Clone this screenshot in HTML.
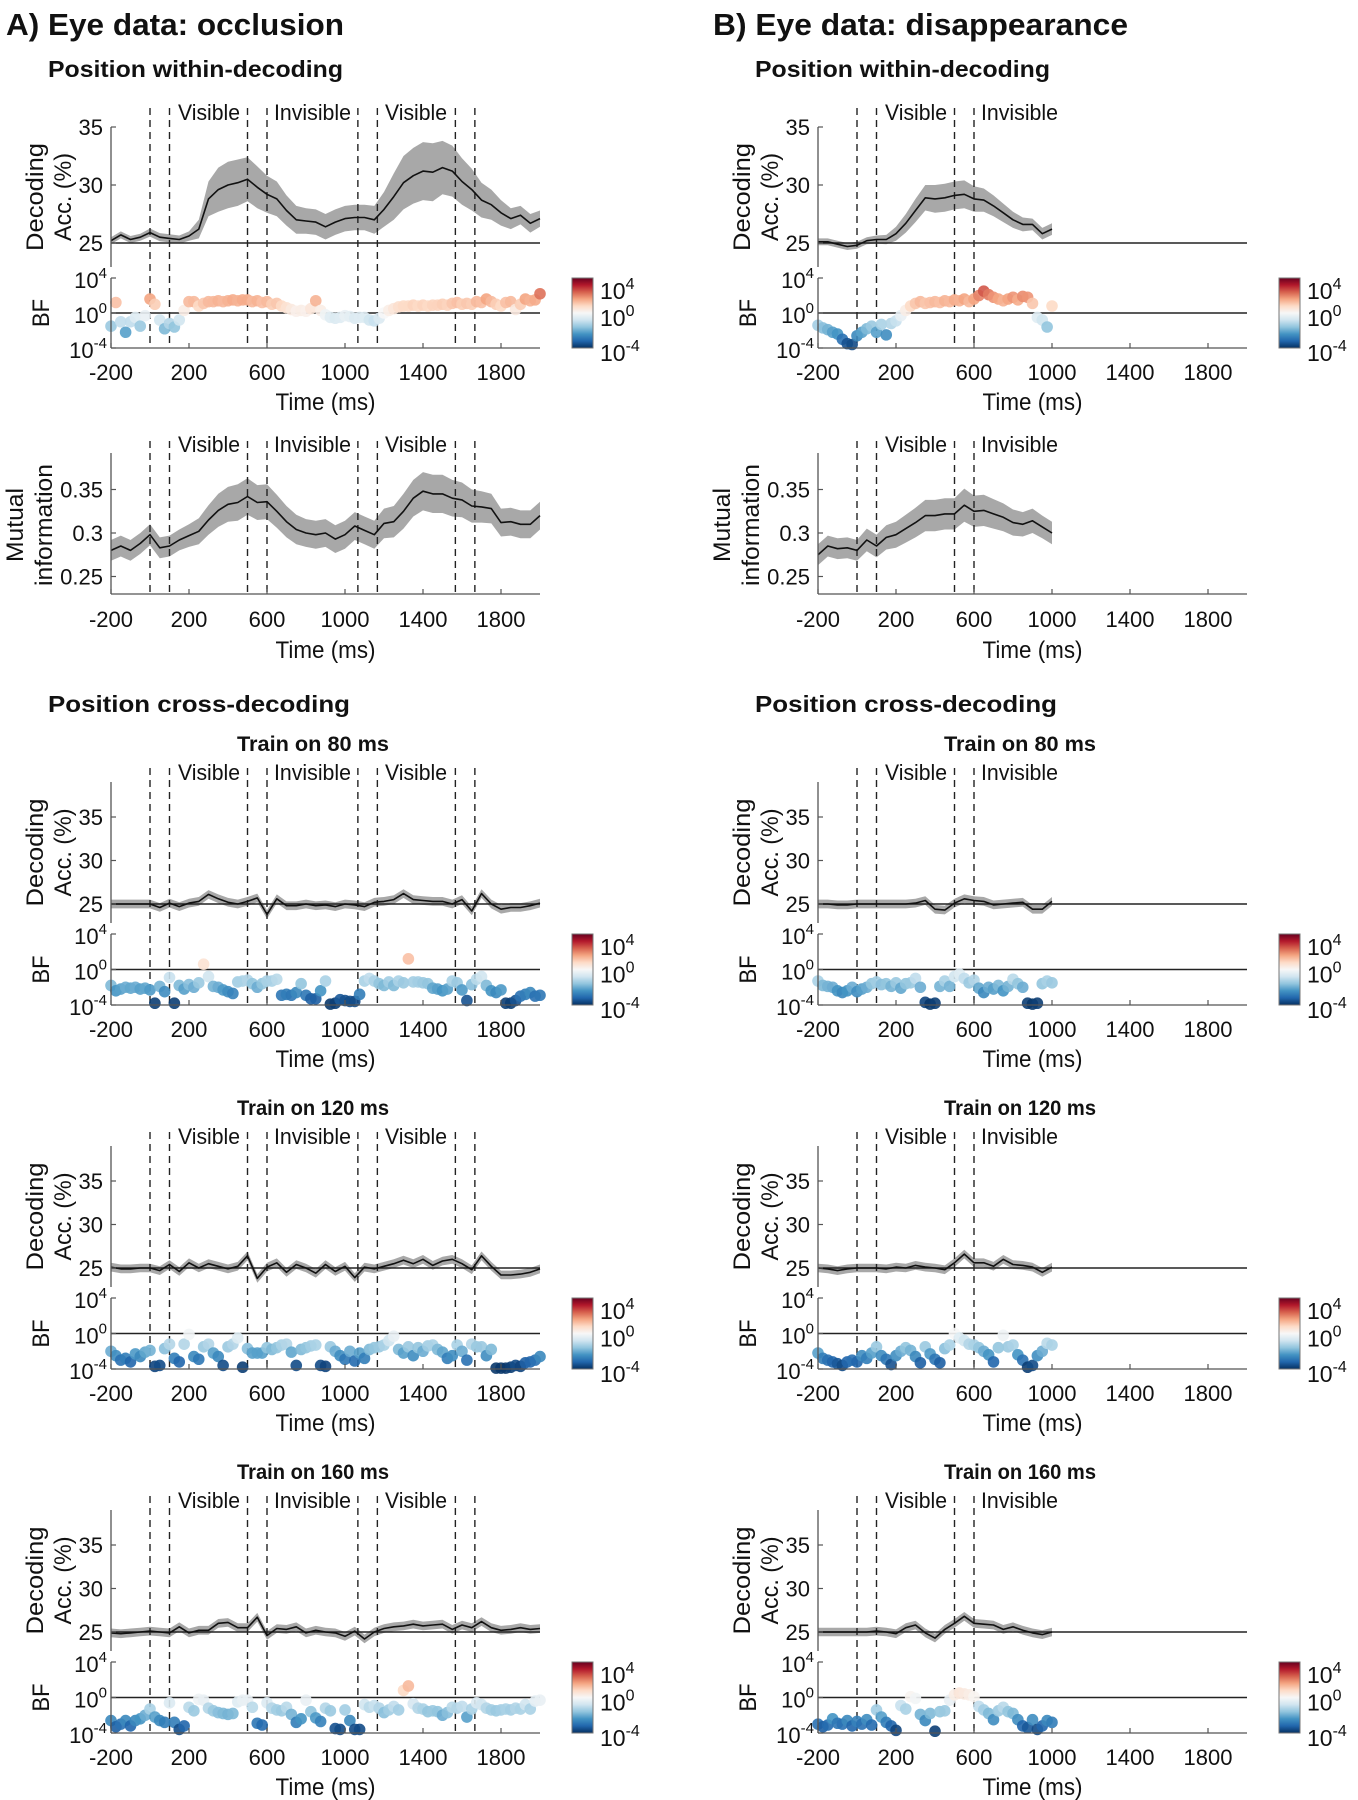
<!DOCTYPE html>
<html><head><meta charset="utf-8"><style>
html,body{margin:0;padding:0;background:#fff}
svg{display:block}
text{font-family:"Liberation Sans",Arial,sans-serif;fill:#111}
</style></head>
<body>
<svg id="fig" xmlns="http://www.w3.org/2000/svg" width="1358" height="1800" viewBox="0 0 1358 1800">
<defs>
<linearGradient id="rdbu" x1="0" y1="1" x2="0" y2="0">
<stop offset="0" stop-color="#053061"/><stop offset="0.1" stop-color="#2166ac"/><stop offset="0.2" stop-color="#4393c3"/><stop offset="0.3" stop-color="#92c5de"/><stop offset="0.4" stop-color="#d1e5f0"/><stop offset="0.5" stop-color="#f7f7f7"/><stop offset="0.6" stop-color="#fddbc7"/><stop offset="0.7" stop-color="#f4a582"/><stop offset="0.8" stop-color="#d6604d"/><stop offset="0.9" stop-color="#b2182b"/><stop offset="1" stop-color="#67001f"/>
</linearGradient>
</defs>
<text x="6" y="35" font-size="31" font-weight="bold" textLength="338" lengthAdjust="spacingAndGlyphs">A) Eye data: occlusion</text>
<text x="713" y="35" font-size="31" font-weight="bold" textLength="415" lengthAdjust="spacingAndGlyphs">B) Eye data: disappearance</text>
<text x="48" y="77" font-size="23" font-weight="bold" textLength="295" lengthAdjust="spacingAndGlyphs">Position within-decoding</text>
<text x="755" y="77" font-size="23" font-weight="bold" textLength="295" lengthAdjust="spacingAndGlyphs">Position within-decoding</text>
<text x="48" y="712" font-size="23" font-weight="bold" textLength="302" lengthAdjust="spacingAndGlyphs">Position cross-decoding</text>
<text x="755" y="712" font-size="23" font-weight="bold" textLength="302" lengthAdjust="spacingAndGlyphs">Position cross-decoding</text>
</svg>
<script>
// ---- data (accuracy / MI at 50 ms steps from -200; BF log10 at 25 ms steps from -200) ----
const xTicks = [-200, 200, 600, 1000, 1400, 1800];
const dashesA = [0, 100, 500, 600, 1066, 1166, 1566, 1666];
const dashesB = [0, 100, 500, 600];
const regionNamesA = ["Visible", "Invisible", "Visible"];
const regionNamesB = ["Visible", "Invisible"];
const accTicks = [25, 30, 35];
const miTicks = [0.25, 0.3, 0.35];
const miTickLabels = ["0.25", "0.3", "0.35"];
const bfTicks = [-4, 0, 4];
const crossCi = 0.5;

const a1Acc = [25.2,25.7,25.3,25.5,25.9,25.5,25.4,25.3,25.6,26.2,28.8,29.6,30.0,30.2,30.5,29.8,29.2,28.8,27.8,27.0,26.9,26.8,26.4,26.8,27.1,27.2,27.2,27.0,27.9,29.0,30.2,30.8,31.2,31.1,31.5,31.2,30.3,29.6,28.7,28.3,27.6,27.1,27.4,26.7,27.1];
const a1Ci = [0.3,0.3,0.3,0.3,0.35,0.35,0.35,0.35,0.4,0.8,1.5,1.9,2.0,2.0,1.9,1.8,1.6,1.5,1.3,1.2,1.1,1.1,1.1,1.1,1.1,1.1,1.1,1.2,1.5,2.0,2.3,2.4,2.5,2.5,2.3,2.2,2.0,1.8,1.5,1.3,1.1,0.9,0.8,0.8,0.7];
const a1Bf = [-1.5,1.2,-1.0,-2.2,-1.0,-0.5,-1.5,-0.3,1.6,1.0,-0.8,-1.8,-1.2,-1.6,-0.8,0.3,1.3,1.3,0.8,1.1,1.3,1.3,1.4,1.3,1.4,1.5,1.4,1.5,1.5,1.3,1.4,1.2,1.3,1.0,1.1,0.8,0.6,0.4,0.2,0.3,0.2,0.5,1.4,0.3,-0.2,-0.5,-0.6,-0.5,-0.3,-0.4,-0.6,-0.5,-0.5,-0.8,-0.9,-0.6,0.0,0.3,0.5,0.7,0.8,0.8,0.9,0.8,0.9,0.8,0.9,0.9,1.0,0.9,1.1,1.2,1.0,1.1,1.0,1.3,1.2,1.6,1.3,1.0,0.8,1.2,1.3,0.4,1.0,1.6,1.4,1.5,2.2];
const a2Mi = [0.280,0.285,0.280,0.288,0.298,0.283,0.285,0.292,0.297,0.302,0.315,0.326,0.333,0.335,0.342,0.335,0.336,0.325,0.313,0.304,0.300,0.298,0.300,0.293,0.298,0.308,0.303,0.298,0.311,0.313,0.325,0.340,0.348,0.345,0.345,0.340,0.338,0.331,0.330,0.328,0.312,0.313,0.310,0.310,0.320];
const a2Ci = [0.012,0.012,0.012,0.012,0.012,0.012,0.012,0.012,0.013,0.015,0.017,0.019,0.020,0.021,0.021,0.020,0.020,0.019,0.018,0.017,0.016,0.016,0.016,0.016,0.016,0.016,0.016,0.016,0.017,0.018,0.020,0.021,0.022,0.022,0.022,0.021,0.020,0.019,0.018,0.017,0.016,0.016,0.016,0.016,0.016];
const a3Acc = [25.0,25.0,25.0,25.0,25.0,24.6,25.1,24.7,25.1,25.3,26.1,25.6,25.2,25.0,25.3,25.7,23.8,25.6,24.8,24.8,25.0,24.8,24.9,24.7,25.0,24.9,24.7,25.2,25.3,25.5,26.2,25.5,25.4,25.3,25.3,25.0,25.5,24.2,26.2,25.0,24.4,24.6,24.6,24.8,25.1];
const a3Bf = [-1.8,-2.4,-2.2,-2.0,-2.1,-2.0,-2.2,-2.1,-2.3,-3.8,-1.9,-2.5,-0.9,-3.8,-1.8,-2.2,-1.7,-2.0,-1.5,0.6,-0.8,-1.9,-2.0,-2.3,-2.5,-2.7,-1.4,-1.3,-1.2,-1.6,-2.0,-1.6,-1.3,-1.3,-1.1,-2.9,-2.8,-2.9,-2.6,-1.6,-2.9,-3.3,-3.3,-2.4,-1.3,-3.9,-3.8,-3.4,-3.5,-3.6,-3.6,-2.8,-1.3,-1.0,-1.3,-1.6,-1.8,-1.4,-1.8,-1.3,-1.5,1.2,-1.4,-1.4,-1.5,-1.6,-2.1,-2.2,-2.4,-2.2,-1.3,-1.5,-2.3,-3.5,-1.7,-1.1,-0.8,-1.8,-2.4,-2.6,-2.3,-3.8,-3.8,-3.5,-3.0,-2.8,-2.6,-3.0,-2.9];
const a4Acc = [25.1,24.9,24.9,25.0,25.0,24.7,25.4,24.6,25.6,25.0,25.5,25.2,24.9,25.2,26.4,23.8,25.1,25.6,24.5,25.4,25.0,24.4,25.4,24.6,25.2,23.9,25.1,24.9,25.2,25.5,25.9,25.5,26.0,25.3,25.8,26.0,25.5,24.8,26.4,25.2,24.2,24.2,24.3,24.5,24.9];
const a4Bf = [-2.0,-2.5,-3.0,-2.8,-3.2,-2.3,-2.6,-2.1,-1.9,-3.7,-3.6,-1.7,-1.2,-2.8,-3.2,-1.2,-0.1,-2.6,-2.9,-1.5,-1.2,-2.2,-2.6,-3.6,-1.5,-1.2,-0.5,-3.8,-1.7,-2.2,-2.2,-2.2,-1.6,-1.8,-1.6,-1.3,-1.2,-2.1,-3.6,-1.8,-1.6,-1.4,-1.3,-3.6,-3.7,-1.5,-2.0,-2.5,-2.9,-2.0,-3.1,-2.2,-2.8,-1.8,-1.6,-1.5,-1.3,-0.8,-0.3,-1.8,-2.2,-1.5,-2.5,-1.6,-2.0,-1.4,-1.3,-1.8,-2.1,-2.8,-2.5,-1.3,-2.0,-3.0,-1.2,-1.5,-1.5,-2.5,-1.8,-3.9,-3.9,-3.9,-3.8,-3.6,-3.7,-3.3,-3.2,-3.0,-2.6];
const a5Acc = [24.9,24.8,24.9,25.0,25.1,25.0,24.9,25.6,24.9,25.2,25.2,26.0,26.1,25.5,25.5,26.7,24.6,25.4,25.3,25.6,24.9,25.2,25.0,24.9,24.5,25.1,24.2,25.0,25.4,25.6,25.7,25.9,25.7,25.8,25.9,25.3,25.8,25.5,26.2,25.5,25.2,25.3,25.5,25.3,25.4];
const a5Bf = [-2.6,-3.3,-3.0,-2.6,-3.2,-2.6,-2.4,-2.0,-1.3,-2.2,-2.6,-2.8,-0.6,-2.8,-3.6,-3.2,-1.1,-1.5,-0.2,-0.3,-1.2,-1.5,-1.7,-1.8,-1.9,-1.8,-0.5,-0.3,-0.3,-1.1,-2.9,-3.1,-0.6,-1.2,-1.4,-1.5,-1.1,-1.9,-2.8,-2.4,-0.3,-1.6,-2.3,-2.7,-1.2,-1.5,-3.5,-3.6,-1.4,-2.6,-3.6,-3.6,-0.8,-1.1,-0.9,-1.2,-1.7,-1.4,-1.0,-1.4,0.8,1.3,-0.7,-1.2,-1.3,-1.6,-1.5,-1.6,-2.0,-1.7,-1.1,-1.2,-1.0,-2.2,-1.3,-0.6,-0.8,-1.2,-1.4,-1.5,-1.4,-1.3,-1.4,-1.2,-1.3,-0.8,-1.3,-0.4,-0.3];

const b1Acc = [25.1,25.1,24.9,24.7,24.8,25.2,25.3,25.3,25.8,26.7,27.8,28.9,28.8,28.9,29.1,29.2,28.8,28.7,28.2,27.6,27.0,26.6,26.6,25.8,26.2];
const b1Ci = [0.3,0.3,0.3,0.3,0.3,0.3,0.35,0.4,0.6,0.8,1.0,1.1,1.2,1.2,1.2,1.2,1.1,1.0,0.9,0.8,0.7,0.6,0.5,0.5,0.5];
const b1Bf = [-1.4,-1.7,-1.9,-2.2,-2.4,-3.0,-3.5,-3.6,-2.6,-2.2,-1.8,-1.5,-2.2,-1.3,-2.5,-1.2,-0.9,-0.3,0.3,0.8,1.1,1.3,1.1,1.2,1.3,1.2,1.4,1.3,1.5,1.4,1.6,1.3,1.6,2.0,2.5,2.1,1.8,1.6,1.4,1.6,1.8,1.5,1.9,1.8,1.1,-0.5,-0.8,-1.6,0.8];
const b2Mi = [0.275,0.285,0.282,0.283,0.280,0.292,0.285,0.295,0.298,0.305,0.312,0.320,0.320,0.322,0.322,0.332,0.325,0.326,0.322,0.318,0.312,0.310,0.314,0.307,0.300];
const b2Ci = [0.012,0.012,0.012,0.012,0.012,0.013,0.013,0.014,0.015,0.016,0.017,0.018,0.018,0.018,0.018,0.019,0.018,0.018,0.017,0.016,0.015,0.014,0.014,0.013,0.013];
const b3Acc = [25.0,25.0,24.9,24.9,25.0,25.0,25.0,25.0,25.0,25.0,25.1,25.4,24.4,24.3,25.1,25.6,25.4,25.3,24.9,25.0,25.1,25.2,24.4,24.4,25.3];
const b3Bf = [-1.3,-1.8,-1.9,-2.0,-2.4,-2.6,-2.4,-2.0,-2.5,-2.2,-2.0,-1.6,-1.4,-1.7,-1.6,-1.9,-1.5,-2.1,-1.6,-1.5,-1.0,-2.0,-3.7,-3.9,-3.8,-1.9,-1.3,-1.9,-0.8,-0.5,-1.0,-1.5,-1.2,-2.1,-2.6,-2.0,-2.2,-1.8,-2.4,-1.9,-1.1,-1.6,-2.0,-3.8,-3.9,-3.8,-1.6,-1.3,-1.5];
const b4Acc = [25.0,24.9,24.7,24.9,25.0,25.0,25.0,24.9,25.1,25.0,25.3,25.1,25.0,24.8,25.6,26.6,25.6,25.6,25.2,26.0,25.4,25.3,25.1,24.5,25.1];
const b4Bf = [-2.2,-2.8,-3.0,-3.2,-3.4,-3.6,-3.2,-3.0,-3.2,-2.5,-2.8,-2.2,-1.5,-2.5,-2.9,-3.5,-2.5,-2.0,-1.6,-1.9,-2.6,-3.3,-1.5,-2.3,-2.9,-3.3,-1.7,-1.3,0.0,-0.5,-0.8,-1.2,-1.3,-1.6,-2.0,-2.4,-3.2,-1.6,-0.2,-1.5,-1.3,-2.4,-3.0,-3.8,-3.6,-2.5,-2.0,-1.1,-1.3];
const b5Acc = [25.0,25.0,25.0,25.0,25.0,25.0,25.1,25.0,24.8,25.5,25.8,24.9,24.3,25.3,26.0,26.8,26.0,25.9,25.8,25.3,25.6,25.2,24.9,24.7,25.0];
const b5Bf = [-3.0,-3.3,-3.1,-2.4,-2.9,-3.0,-2.6,-3.2,-2.7,-3.0,-2.5,-3.1,-1.4,-2.2,-2.8,-3.2,-3.7,-0.9,-1.3,0.1,-0.1,-1.9,-2.6,-1.8,-3.8,-1.6,-1.5,-0.3,0.3,0.5,0.4,0.3,0.1,-1.0,-1.4,-1.8,-2.5,-1.5,-1.1,-1.6,-1.8,-2.5,-3.2,-3.4,-2.5,-3.6,-3.2,-2.6,-2.8];

// ---- drawing ----
const NS = "http://www.w3.org/2000/svg";
const svg = document.getElementById("fig");
const TICK_FS = 22;
function mk(tag, attrs, parent) {
  const e = document.createElementNS(NS, tag);
  for (const k in attrs) e.setAttribute(k, attrs[k]);
  (parent || svg).appendChild(e);
  return e;
}
const stops = [[-4,[5,48,97]],[-3.2,[33,102,172]],[-2.4,[67,147,195]],[-1.6,[146,197,222]],[-0.8,[209,229,240]],[0,[247,247,247]],[0.8,[253,219,199]],[1.6,[244,165,130]],[2.4,[214,96,77]],[3.2,[178,24,43]],[4,[103,0,31]]];
function rdbu(v) {
  v = Math.max(-4, Math.min(4, v));
  for (let i = 0; i < stops.length - 1; i++) {
    const a = stops[i], b = stops[i + 1];
    if (v <= b[0]) {
      const f = (v - a[0]) / (b[0] - a[0]);
      const c = a[1].map((x, j) => Math.round(x + (b[1][j] - x) * f));
      return "rgb(" + c.join(",") + ")";
    }
  }
  return "rgb(103,0,31)";
}
function superText(g, x, y, base, exp, name) {
  const t = mk("text", {x: x, y: y, "font-size": TICK_FS, "text-anchor": "end"}, g);
  
  
  const s1 = mk("tspan", {}, t); s1.textContent = base;
  const s2 = mk("tspan", {dy: -10, "font-size": 15}, t); s2.textContent = exp;
  return t;
}
function xScale(xL) { return t => xL + (t + 200) * 429 / 2200; }

function drawXAxis(g, xL, yAx, tickLabY, timeY, id) {
  const X = xScale(xL);
  const ax = mk("line", {x1: xL, y1: yAx, x2: xL + 429, y2: yAx, stroke: "#555", "stroke-width": 1.3}, g);
  
  
  xTicks.forEach(t => {
    mk("line", {x1: X(t), y1: yAx, x2: X(t), y2: yAx - 5, stroke: "#555", "stroke-width": 1.2}, g);
    const lb = mk("text", {x: X(t), y: tickLabY, "font-size": TICK_FS, "text-anchor": "middle"}, g);
    
    
    lb.textContent = String(t);
  });
  const tl = mk("text", {x: xL + 214.5, y: timeY, "font-size": 24, "text-anchor": "middle", textLength: 100, lengthAdjust: "spacingAndGlyphs"}, g);
  
  
  tl.textContent = "Time (ms)";
}

function drawDashes(g, xL, dashes, yTop, yBot, id) {
  const X = xScale(xL);
  dashes.forEach(t => {
    const d = mk("line", {x1: X(t), y1: yTop, x2: X(t), y2: yBot, stroke: "#222", "stroke-width": 1.4, "stroke-dasharray": "7,5"}, g);
    
    
  });
}
function drawRegions(g, xL, names, y, id) {
  const rel = [67, 163, 274], wid = {"Visible": 62, "Invisible": 77};
  names.forEach((n, i) => {
    const t = mk("text", {x: xL + rel[i], y: y, "font-size": 22, textLength: wid[n], lengthAdjust: "spacingAndGlyphs"}, g);
    
    
    t.textContent = n;
  });
}
function drawSeries(g, xL, vals, ci, tEnd, yf, id) {
  const X = xScale(xL);
  const n = vals.length;
  const ts = vals.map((v, i) => -200 + i * 50);
  let up = "", lo = "";
  for (let i = 0; i < n; i++) {
    const c = Array.isArray(ci) ? ci[i] : ci;
    up += (i ? "L" : "M") + X(ts[i]).toFixed(1) + "," + yf(vals[i] + c).toFixed(1);
  }
  for (let i = n - 1; i >= 0; i--) {
    const c = Array.isArray(ci) ? ci[i] : ci;
    lo += "L" + X(ts[i]).toFixed(1) + "," + yf(vals[i] - c).toFixed(1);
  }
  const band = mk("path", {d: up + lo + "Z", fill: "#a8a8a8", stroke: "none"}, g);
  
  
  return ts;
}
function drawLine(g, xL, vals, yf, id) {
  const X = xScale(xL);
  let d = "";
  vals.forEach((v, i) => { d += (i ? "L" : "M") + X(-200 + i * 50).toFixed(1) + "," + yf(v).toFixed(1); });
  const p = mk("path", {d: d, fill: "none", stroke: "#111", "stroke-width": 1.6, "stroke-linejoin": "round"}, g);
  
  
}
function drawYLabel(g, x, y, txt, len, id) {
  const t = mk("text", {x: 0, y: 0, "font-size": 24, "text-anchor": "middle", transform: "translate(" + x + "," + y + ") rotate(-90)", textLength: len, lengthAdjust: "spacingAndGlyphs"}, g);
  
  
  t.textContent = txt;
}
function drawColorbar(g, xL, top, bot, id) {
  const cx = xL + 461;
  const r = mk("rect", {x: cx, y: top, width: 21, height: bot - top, fill: "url(#rdbu)", stroke: "#777", "stroke-width": 1}, g);
  
  
  const lx = cx + 28;
  [[top + 21, "4"], [(top + bot) / 2 + 13, "0"], [bot + 13, "-4"]].forEach(p => {
    const t = mk("text", {x: lx, y: p[0], "font-size": 23}, g);
    
    
    const a = mk("tspan", {}, t); a.textContent = "10";
    const b = mk("tspan", {dy: -10, "font-size": 16}, t); b.textContent = p[1];
  });
}

function accPanel(o) {
  const g = mk("g", {});
  
  
  const xL = o.xL, X = xScale(xL);
  const yf = v => o.y25 - (v - 25) * o.ppu;
  const bmid = (o.bfTop + o.bfBot) / 2, bs = (o.bfBot - o.bfTop) / 8;
  const yb = v => bmid - Math.max(-4, Math.min(4, v)) * bs;
  if (o.title) {
    const tt = mk("text", {x: xL + 202, y: o.titleY, "font-size": 21, "font-weight": "bold", "text-anchor": "middle", textLength: 152, lengthAdjust: "spacingAndGlyphs"}, g);
    
    
    tt.textContent = o.title;
  }
  drawRegions(g, xL, o.regions, o.labY, o.id);
  drawSeries(g, xL, o.acc, o.ci, 0, yf, o.id);
  drawDashes(g, xL, o.dashes, o.dashTop, o.bfBot, o.id);
  const c1 = mk("line", {x1: xL, y1: yf(25), x2: xL + 429, y2: yf(25), stroke: "#222", "stroke-width": 1.6}, g);
  
  
  drawLine(g, xL, o.acc, yf, o.id);
  const ya = mk("line", {x1: xL, y1: o.yTop, x2: xL, y2: o.accBot, stroke: "#555", "stroke-width": 1.3}, g);
  
  
  accTicks.forEach(v => {
    mk("line", {x1: xL, y1: yf(v), x2: xL + 5, y2: yf(v), stroke: "#555", "stroke-width": 1.2}, g);
    const t = mk("text", {x: xL - 8, y: yf(v) + 8, "font-size": TICK_FS, "text-anchor": "end"}, g);
    
    
    t.textContent = String(v);
  });
  const am = (o.yTop + o.accBot) / 2;
  drawYLabel(g, xL - 68, am, "Decoding", 108, o.id + '-y-title-decoding');
  drawYLabel(g, xL - 40, am, "Acc. (%)", 88, o.id + '-y-title-acc');
  const c2 = mk("line", {x1: xL, y1: yb(0), x2: xL + 429, y2: yb(0), stroke: "#222", "stroke-width": 1.6}, g);
  
  
  o.bf.forEach((v, i) => {
    const c = mk("circle", {cx: X(-200 + i * 25), cy: yb(v), r: 5.8, fill: rdbu(v), "fill-opacity": 0.9}, g);
    
    
  });
  const yb1 = mk("line", {x1: xL, y1: o.bfTop, x2: xL, y2: o.bfBot, stroke: "#555", "stroke-width": 1.3}, g);
  
  
  bfTicks.forEach(v => {
    mk("line", {x1: xL, y1: yb(v), x2: xL + 5, y2: yb(v), stroke: "#555", "stroke-width": 1.2}, g);
    superText(g, xL - 4, yb(v) + 10, "10", String(v), o.id + '-bf-tick-label');
  });
  drawYLabel(g, xL - 62, bmid, "BF", 28, o.id + '-y-title-bf');
  drawXAxis(g, xL, o.bfBot, o.bfBot + 32, o.bfBot + 62, o.id);
  drawColorbar(g, xL, o.bfTop, o.bfBot, o.id);
}

function miPanel(o) {
  const g = mk("g", {});
  
  
  const xL = o.xL;
  const yf = v => 533 - (v - 0.3) * 870;
  drawRegions(g, xL, o.regions, 452, o.id);
  drawSeries(g, xL, o.mi, o.ci, 0, yf, o.id);
  drawDashes(g, xL, o.dashes, 441, 594, o.id);
  drawLine(g, xL, o.mi, yf, o.id);
  const ya = mk("line", {x1: xL, y1: 453, x2: xL, y2: 594, stroke: "#555", "stroke-width": 1.3}, g);
  
  
  miTicks.forEach((v, i) => {
    mk("line", {x1: xL, y1: yf(v), x2: xL + 5, y2: yf(v), stroke: "#555", "stroke-width": 1.2}, g);
    const t = mk("text", {x: xL - 8, y: yf(v) + 8, "font-size": TICK_FS, "text-anchor": "end"}, g);
    
    
    t.textContent = miTickLabels[i];
  });
  drawYLabel(g, xL - 88, 525, "Mutual", 74, o.id + '-y-title-mutual');
  drawYLabel(g, xL - 59, 525, "information", 122, o.id + '-y-title-information');
  drawXAxis(g, xL, 594, 627, 658, o.id);
}

const cols = [
  {xL: 111, dashes: dashesA, regions: regionNamesA, p: "a",
   acc1: a1Acc, ci1: a1Ci, bf1: a1Bf, mi: a2Mi, miCi: a2Ci,
   cross: [[a3Acc, a3Bf], [a4Acc, a4Bf], [a5Acc, a5Bf]]},
  {xL: 818, dashes: dashesB, regions: regionNamesB, p: "b",
   acc1: b1Acc, ci1: b1Ci, bf1: b1Bf, mi: b2Mi, miCi: b2Ci,
   cross: [[b3Acc, b3Bf], [b4Acc, b4Bf], [b5Acc, b5Bf]]}
];
const trainTitles = ["Train on 80 ms", "Train on 120 ms", "Train on 160 ms"];
cols.forEach(c => {
  accPanel({id: c.p + "-within-decoding-panel", xL: c.xL, dashes: c.dashes, regions: c.regions,
    labY: 120, dashTop: 108, yTop: 127, y25: 243, ppu: 11.6, accBot: 267, bfTop: 278, bfBot: 348,
    acc: c.acc1, ci: c.ci1, bf: c.bf1});
  miPanel({id: c.p + "-mutual-information-panel", xL: c.xL, dashes: c.dashes, regions: c.regions, mi: c.mi, ci: c.miCi});
  c.cross.forEach((d, k) => {
    const off = k * 364;
    accPanel({id: c.p + "-cross-decoding-panel-" + (k + 1), xL: c.xL, dashes: c.dashes, regions: c.regions,
      title: trainTitles[k], titleY: 751 + off,
      labY: 780 + off, dashTop: 768 + off, yTop: 782 + off, y25: 904 + off, ppu: 8.7, accBot: 923 + off,
      bfTop: 934 + off, bfBot: 1005 + off, acc: d[0], ci: crossCi, bf: d[1]});
  });
});
</script>
</body></html>
